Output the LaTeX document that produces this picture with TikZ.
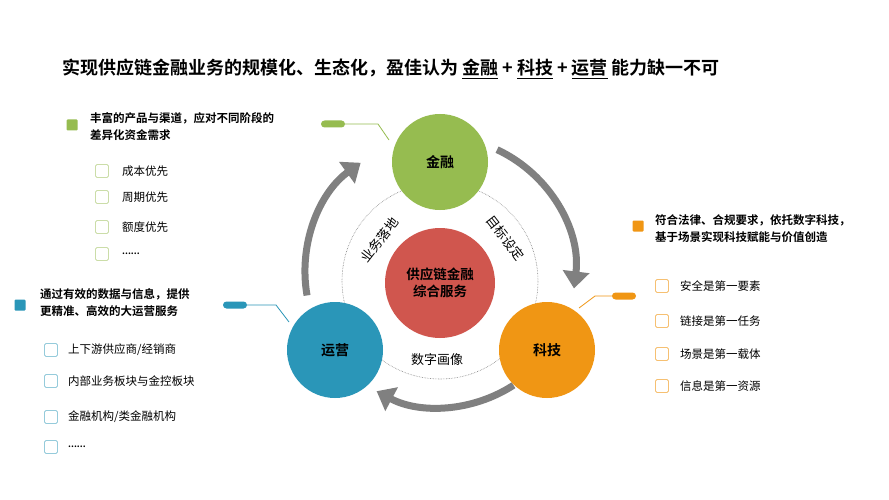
\documentclass[tikz,border=0pt]{standalone}
\usepackage{fontspec}
\setmainfont{Noto Sans CJK SC}[BoldFont={Noto Sans CJK SC Bold}]
\usetikzlibrary{arrows.meta,shapes.misc}
\definecolor{cgreen}{RGB}{150,188,80}
\definecolor{cblue}{RGB}{42,150,184}
\definecolor{corange}{RGB}{240,150,20}
\definecolor{cred}{RGB}{208,86,78}
\definecolor{cgray}{RGB}{128,128,128}
\newcommand{\mydots}{{\bfseries\fontsize{9}{9}\selectfont ......}}
\tikzset{
 x=1pt,y=-1pt,
 big/.style={circle,minimum size=96pt,inner sep=0pt,font=\bfseries\fontsize{14}{16}\selectfont},
 arcarrow/.style={draw=cgray,line width=7pt,-{Triangle[length=17pt,width=26pt]}},
 head/.style={font=\bfseries\fontsize{11.5}{17}\selectfont,align=left,anchor=north west,inner sep=0pt},
 item/.style={font=\fontsize{11.5}{13}\selectfont,anchor=west,inner sep=0pt},
 sq/.style={rectangle,rounded corners=1pt,minimum size=11pt,inner sep=0pt},
 cb/.style={rectangle,rounded corners=1.5pt,minimum size=13pt,inner sep=0pt,line width=0.8pt,fill=white},
 pill/.style={rounded rectangle,minimum width=24pt,minimum height=7pt,inner sep=0pt},
 lbl/.style={font=\fontsize{13}{15}\selectfont,inner sep=0pt},
}
\begin{document}
\begin{tikzpicture}
\useasboundingbox (0,0) rectangle (889,500);
\fill[white] (0,0) rectangle (889,500);
% title
\node[anchor=west,inner sep=0pt,font=\bfseries\fontsize{18}{21}\selectfont] (title) at (62,69)
 {实现供应链金融业务的规模化、生态化，盈佳认为 \underline{金融} + \underline{科技} + \underline{运营} 能力缺一不可};
% dotted circle
\draw[densely dotted,gray,line width=0.6pt] (440,281) circle[radius=98];
% arcs
\draw[arcarrow] (440,272) ++(-190:135) arc[start angle=-190,end angle=-126,radius=135];
\draw[arcarrow] (440,272) ++(-65:135) arc[start angle=-65,end angle=7,radius=135];
\draw[arcarrow] (440,272) ++(57:135) arc[start angle=57,end angle=118,radius=135];
% circles
\node[big,fill=cgreen] (jr) at (440,162) {金融};
\node[big,fill=cblue] (yy) at (335,350) {运营};
\node[big,fill=corange] (kj) at (547,350) {科技};
\node[circle,minimum size=110pt,fill=cred,inner sep=0pt,align=center,font=\bfseries\fontsize{13.5}{17}\selectfont] (core) at (440,283) {供应链金融\\综合服务};
% arc labels
\node[lbl,rotate=52] (l1) at (380,240) {业务落地};
\node[lbl,rotate=-52] (l2) at (505,238) {目标设定};
\node[lbl] (l3) at (437,360) {数字画像};
% pills + connectors
\node[pill,fill=cgreen] (p1) at (333,124) {};
\coordinate (c1a) at (378,124); \coordinate (c1b) at (389,140);
\draw[cgreen,line width=0.8pt] (p1) -- (c1a) -- (c1b);
\node[pill,fill=cblue] (p2) at (235,305) {};
\coordinate (c2a) at (276,305); \coordinate (c2b) at (289,322);
\draw[cblue,line width=0.8pt] (p2) -- (c2a) -- (c2b);
\node[pill,fill=corange] (p3) at (624,296) {};
\coordinate (c3a) at (595,296); \coordinate (c3b) at (579,308);
\draw[corange,line width=0.8pt] (p3) -- (c3a) -- (c3b);
% left top block
\node[sq,fill=cgreen] (s1) at (72,125) {};
\node[head] (h1) at (90,112) {丰富的产品与渠道，应对不同阶段的\\差异化资金需求};
\foreach \i/\y/\t in {1/171/{成本优先},2/197/{周期优先},3/227/{额度优先},4/254/{\mydots}}{
  \node[cb,draw=cgreen!50] (a\i) at (102,\y) {};
  \node[item] (at\i) at (122,\y) {\t};
}
% left bottom block
\node[sq,fill=cblue] (s2) at (20,305) {};
\node[head] (h2) at (40,288) {通过有效的数据与信息，提供\\更精准、高效的大运营服务};
\foreach \i/\y/\t in {1/350/{上下游供应商/经销商},2/381/{内部业务板块与金控板块},3/417/{金融机构/类金融机构},4/447/{\mydots}}{
  \node[cb,draw=cblue!50] (b\i) at (51,\y) {};
  \node[item] (bt\i) at (68,\y) {\t};
}
% right block
\node[sq,fill=corange] (s3) at (638,226) {};
\node[head] (h3) at (655,214) {符合法律、合规要求，依托数字科技，\\基于场景实现科技赋能与价值创造};
\foreach \i/\y/\t in {1/286/{安全是第一要素},2/321/{链接是第一任务},3/354/{场景是第一载体},4/386/{信息是第一资源}}{
  \node[cb,draw=corange!60] (r\i) at (662,\y) {};
  \node[item] (rt\i) at (680,\y) {\t};
}
\end{tikzpicture}
\end{document}
